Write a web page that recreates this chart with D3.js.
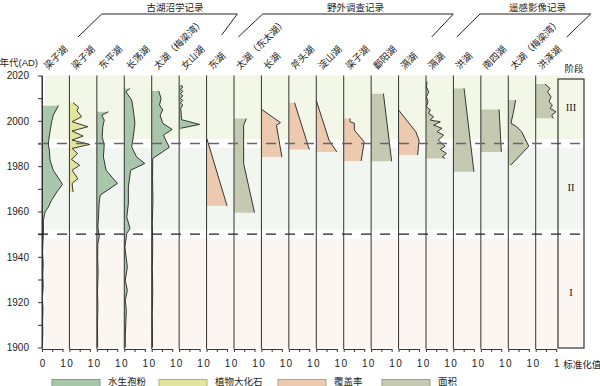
<!DOCTYPE html>
<html>
<head>
<meta charset="utf-8">
<script src="https://cdn.jsdelivr.net/npm/d3@7"></script>
<style>
  html, body { margin: 0; padding: 0; background: #fff; }
  svg { display: block; }
</style>
</head>
<body>
<svg id="chart" width="600" height="386"></svg>
<script>
// panels, left to right
const lakeNames = [
  "梁子湖", "梁子湖", "东平湖", "长荡湖", "太湖（梅梁湾）", "女山湖", "东湖",
  "太湖（东太湖）", "长湖", "斧头湖", "淀山湖", "梁子湖", "鄱阳湖", "滆湖", "滆湖",
  "洪湖", "南四湖", "太湖（梅梁湾）", "洪泽湖",
];
const lakeTypes = [
  "pollen", "macro", "pollen", "pollen", "pollen", "pollen", "cover",
  "area", "cover", "cover", "cover", "cover", "area", "cover", "area",
  "area", "area", "area", "area",
];

const groupNames = ["古湖沼学记录", "野外调查记录", "遥感影像记录"];

const typeKeys = ["pollen", "macro", "cover", "area"];
const typeNames = ["水生孢粉", "植物大化石", "覆盖率", "面积"];

const stageLabels = ["III", "II", "I"];
const stageTops = [2020, 1988, 1948];
const stageBottoms = [1992, 1952, 1900];
const stageBreaks = [1990, 1950];

const yearTicks = [1900, 1910, 1920, 1930, 1940, 1950, 1960, 1970, 1980, 1990, 2000, 2010, 2020];
const yearLabels = [1900, 1920, 1940, 1960, 1980, 2000, 2020];
const valueTicks = [0, 0.5, 1];

// [year, normalised value]
const liangziPollen = [
  [2006.7, 0.8], [2002.5, 0.55], [1999.6, 0.47], [1995.2, 0.39], [1991.5, 0.33],
  [1989.3, 0.31], [1987.1, 0.36], [1982.7, 0.39], [1978.2, 0.55], [1972, 1.0],
  [1968.6, 0.72], [1965, 0.47], [1962, 0.31], [1959.8, 0.15], [1956.1, 0.07],
  [1951.7, 0.07], [1947, 0.05], [1942, 0.03], [1937, 0.06], [1932, 0.04],
  [1927, 0.06], [1922, 0.02], [1917, 0.05], [1912, 0.03], [1907, 0.04], [1900, 0.02],
];
const liangziMacro = [
  [2008, 0.18], [2006, 0.45], [2004.5, 0.37], [2001.8, 0.59], [1999.6, 0.13],
  [1997.4, 0.9], [1995.5, 0.13], [1993.3, 0.67], [1991.5, 0.13], [1989.6, 1.0],
  [1987.8, 0.13], [1985.6, 0.4], [1983, 0.1], [1980.4, 0.5], [1978.2, 0.13],
  [1974.5, 0.41], [1972.4, 0.13], [1968.6, 0.18],
];
const dongpingPollen = [
  [2004, 0.57], [2002.5, 0.24], [2000.3, 0.36], [1997.4, 0.29], [1993, 0.26],
  [1989.3, 0.36], [1984.1, 0.32], [1978.2, 0.45], [1972.4, 1.0], [1967.2, 0.16],
  [1963.5, 0.11], [1957.6, 0.08], [1953.2, 0.05], [1949, 0.12], [1946, 0.05],
  [1940, 0.04], [1933, 0.06], [1925, 0.03], [1918, 0.05], [1910, 0.03], [1900, 0.04],
];
const changdangPollen = [
  [2014.3, 0.28], [2012.8, 0.08], [2009.2, 0.36], [2004.8, 0.44], [1998.9, 0.52],
  [1993, 0.44], [1988.5, 0.36], [1984.1, 0.6], [1981.2, 1.0], [1978.2, 0.31],
  [1970.9, 0.2], [1963.5, 0.2], [1957.6, 0.12], [1952.5, 0.28], [1950.3, 0.12],
  [1944.3, 0.03], [1935.5, 0.15], [1929.6, 0.05], [1925.2, 0.15], [1920.8, 0.05],
  [1916.4, 0.1], [1905.2, 0.05], [1900, 0.05],
];
const meiliangPollen = [
  [2013.2, 0.34], [2009.9, 0.46], [2007, 0.38], [2004.8, 0.54], [2002.5, 0.41],
  [1998.9, 0.54], [1996.2, 1.0], [1993.7, 0.57], [1988.3, 0.86], [1983.4, 0.05],
  [1975, 0.04], [1965, 0.06], [1955, 0.03], [1945, 0.05], [1935, 0.03],
  [1925, 0.05], [1915, 0.03], [1900, 0.04],
];
const nushanPollen = [
  [2015.8, 0.1], [2014.9, 0.18], [2014, 0.07], [2013, 0.18], [2012, 0.07],
  [2011, 0.18], [2010, 0.07], [2009, 0.18], [2008, 0.07], [2007, 0.17],
  [2005.5, 0.08], [2003, 0.1], [2000.5, 0.12], [1998.4, 1.0], [1996.7, 0.06],
];
const donghuCover = [[1992, 0.02], [1962.5, 1.0]];
const dongtaihuArea = [[2001, 0.6], [1998, 0.47], [1981.2, 0.47], [1959.5, 1.0]];
const changhuCover = [[2005, 0.02], [1999.2, 0.93], [1998.1, 0.73], [1984, 1.0]];
const futouCover = [[2008, 0.28], [1987.3, 1.0]];
const dianshanCover = [[2009, 0.0], [1991.5, 0.62], [1986.3, 1.0]];
const liangziCover = [
  [2001, 0.31], [1999.6, 0.31], [1998.9, 0.52], [1995.9, 0.52], [1990.7, 1.0], [1982.3, 0.85],
];
const poyangArea = [[2012, 0.6], [1982.2, 1.0]];
const gehuCover = [[2004.8, 0.0], [1995.2, 0.84], [1991.5, 1.0], [1984.9, 0.93]];
const gehuArea = [
  [2017.3, 0.05], [2015, 0.02], [2012.8, 0.13], [2010.6, 0.02], [2008.4, 0.1],
  [2006.2, 0.02], [2004.8, 0.21], [2003.3, 0.13], [2001.8, 0.37], [2000.3, 0.21],
  [1999.6, 0.7], [1998.1, 0.37], [1996.7, 0.78], [1995.2, 0.54], [1993.7, 0.86],
  [1991.5, 0.6], [1988.8, 0.93], [1987.4, 0.7], [1985.6, 1.0], [1984.1, 0.8], [1983.4, 0.93],
];
const honghuArea = [[2014.3, 0.52], [1977.5, 1.0]];
const nansiArea = [[2005, 0.89], [1986.3, 1.0]];
const meiliangArea = [
  [2009.2, 0.36], [2003.3, 0.24], [1998.9, 0.13], [1997.4, 0.41], [1995.2, 0.65],
  [1988.8, 1.0], [1980.4, 0.12],
];
const hongzeArea = [
  [2016.2, 0.45], [2014.3, 0.7], [2012.8, 0.58], [2010.6, 0.75], [2008.4, 0.65],
  [2007, 0.81], [2005.5, 0.7], [2004, 0.99], [2002.5, 0.78], [2001.1, 0.86],
];

const panelValues = [
  liangziPollen, liangziMacro, dongpingPollen, changdangPollen, meiliangPollen,
  nushanPollen, donghuCover, dongtaihuArea, changhuCover, futouCover, dianshanCover,
  liangziCover, poyangArea, gehuCover, gehuArea, honghuArea, nansiArea,
  meiliangArea, hongzeArea,
];

(() => {
  const d3 = window.d3;
  const CJK = '"Noto Sans CJK SC", "Liberation Sans", sans-serif';
  const LATIN = '"Liberation Sans", Arial, "Noto Sans CJK SC", sans-serif';
  const INK = "#222222";
  const TYPE_COLORS = {
    pollen: "#a7c6aa",
    macro: "#e1e59e",
    cover: "#ecc9af",
    area: "#c5c9b1",
  };
  const STAGE_FILLS = ["#f3f7e8", "#f1f7f0", "#fcf6f2"];

  const AXIS_Y = 349;
  const BAND_X0 = 45;
  const BOX = { x0: 558, x1: 584, y0: 79, y1: 348 };
  // bracket lines over the group titles: [leftBottomX, leftTopX, rightTopX, rightBottomX]
  const BRACKETS = [
    [78, 101.7, 237.3, 221.7],
    [238.3, 262.7, 453.3, 431.7],
    [456.7, 480, 590.7, 566.7],
  ];
  const GROUP_TITLE_X = [175, 355.5, 537.5];
  const LEGEND_X = [52, 159, 278, 382];

  const svg = d3.select("#chart");

  const y = d3.scaleLinear().domain([1900, 2020]).range([347.5, 75.5]);
  const panelX = d3
    .scaleBand()
    .domain(d3.range(lakeNames.length))
    .range([42, 556.2])
    .paddingInner(0.253)
    .paddingOuter(0);

  const panels = lakeNames.map((name, i) => {
    const left = panelX(i);
    return {
      name,
      type: lakeTypes[i],
      values: panelValues[i],
      left,
      x: d3.scaleLinear().domain([0, 1]).range([left, left + panelX.bandwidth()]),
    };
  });

  // stage background bands
  svg
    .append("g")
    .selectAll("rect")
    .data(stageLabels)
    .join("rect")
    .attr("x", BAND_X0)
    .attr("width", BOX.x1 - BAND_X0)
    .attr("y", (d, i) => y(stageTops[i]))
    .attr("height", (d, i) => y(stageBottoms[i]) - y(stageTops[i]))
    .attr("fill", (d, i) => STAGE_FILLS[i]);

  // profiles
  const profiles = svg
    .append("g")
    .selectAll("g")
    .data(panels)
    .join("g");

  profiles
    .append("path")
    .attr("d", (p) =>
      d3
        .area()
        .y((d) => y(d[0]))
        .x0(p.x(0))
        .x1((d) => p.x(d[1]))(p.values),
    )
    .attr("fill", (p) => TYPE_COLORS[p.type]);

  profiles
    .append("path")
    .attr("d", (p) =>
      d3
        .line()
        .y((d) => y(d[0]))
        .x((d) => p.x(d[1]))(p.values),
    )
    .attr("fill", "none")
    .attr("stroke", INK)
    .attr("stroke-width", 0.9)
    .attr("stroke-linejoin", "round");

  // panel base lines
  svg
    .append("g")
    .selectAll("line")
    .data(panels)
    .join("line")
    .attr("x1", (p) => p.left)
    .attr("x2", (p) => p.left)
    .attr("y1", y(2020))
    .attr("y2", AXIS_Y)
    .attr("stroke", "#333")
    .attr("stroke-width", 1);

  // year axis
  const yAxisG = svg
    .append("g")
    .attr("transform", `translate(${panelX(0)},0)`)
    .call(
      d3
        .axisLeft(y)
        .tickValues(yearTicks)
        .tickSize(4)
        .tickSizeOuter(0)
        .tickPadding(9)
        .tickFormat((d) => (yearLabels.includes(d) ? d : "")),
    );
  yAxisG.selectAll("path, line").attr("stroke", "#333");
  yAxisG
    .selectAll("text")
    .attr("fill", INK)
    .style("font-family", LATIN)
    .style("font-size", "10px");

  // value axes under each panel
  panels.forEach((p) => {
    const g = svg
      .append("g")
      .attr("transform", `translate(0,${AXIS_Y})`)
      .call(
        d3
          .axisBottom(p.x)
          .tickValues(valueTicks)
          .tickSize(3)
          .tickSizeOuter(0)
          .tickPadding(8)
          .tickFormat((d) => (d === 0.5 ? "" : d3.format("d")(d))),
      );
    g.selectAll("path, line").attr("stroke", "#333");
    g.selectAll("text")
      .attr("fill", INK)
      .style("font-family", LATIN)
      .style("font-size", "10px");
  });

  svg
    .append("text")
    .attr("x", panelX(lakeNames.length - 1) + panelX.bandwidth() + 7)
    .attr("y", AXIS_Y + 18.5)
    .attr("fill", INK)
    .style("font-family", CJK)
    .style("font-size", "9.5px")
    .text("标准化值");

  // stage boundaries
  svg
    .append("g")
    .selectAll("line")
    .data(stageBreaks)
    .join("line")
    .attr("x1", 38)
    .attr("x2", BOX.x1)
    .attr("y1", (d) => y(d))
    .attr("y2", (d) => y(d))
    .attr("stroke", (d, i) => (i === 0 ? "#666" : "#222"))
    .attr("stroke-width", 1.4)
    .attr("stroke-dasharray", "10,9");

  // stage box
  svg
    .append("rect")
    .attr("x", BOX.x0)
    .attr("y", BOX.y0)
    .attr("width", BOX.x1 - BOX.x0)
    .attr("height", BOX.y1 - BOX.y0)
    .attr("fill", "none")
    .attr("stroke", "#333")
    .attr("stroke-width", 1.2);

  svg
    .append("g")
    .selectAll("text")
    .data(stageLabels)
    .join("text")
    .attr("x", (BOX.x0 + BOX.x1) / 2)
    .attr("y", (d, i) => (Math.max(y(stageTops[i]), BOX.y0) + y(stageBottoms[i])) / 2)
    .attr("text-anchor", "middle")
    .attr("dominant-baseline", "middle")
    .attr("fill", INK)
    .style("font-family", '"Liberation Serif", "DejaVu Serif", serif')
    .style("font-size", "10.5px")
    .text((d) => d);

  svg
    .append("text")
    .attr("x", (BOX.x0 + BOX.x1) / 2 + 3)
    .attr("y", 72)
    .attr("text-anchor", "middle")
    .attr("fill", INK)
    .style("font-family", CJK)
    .style("font-size", "9.5px")
    .text("阶段");

  svg
    .append("text")
    .attr("x", 38)
    .attr("y", 65.5)
    .attr("text-anchor", "end")
    .attr("fill", INK)
    .style("font-family", LATIN)
    .style("font-size", "9.5px")
    .text("年代(AD)");

  // rotated lake names
  svg
    .append("g")
    .selectAll("text")
    .data(panels)
    .join("text")
    .attr("transform", (p) => `translate(${p.left + 6},70) rotate(-45)`)
    .attr("fill", INK)
    .style("font-family", CJK)
    .style("font-size", "9.5px")
    .text((p) => p.name);

  // group headers
  const groups = svg
    .append("g")
    .selectAll("g")
    .data(groupNames)
    .join("g");

  groups
    .append("path")
    .attr("d", (d, i) => {
      const [lb, lt, rt, rb] = BRACKETS[i];
      return `M${lb},37 L${lt},14 H${rt} L${rb},${i === 0 ? 35 : 37}`;
    })
    .attr("fill", "none")
    .attr("stroke", INK)
    .attr("stroke-width", 1);

  groups
    .append("text")
    .attr("x", (d, i) => GROUP_TITLE_X[i])
    .attr("y", 10.5)
    .attr("text-anchor", "middle")
    .attr("fill", INK)
    .style("font-family", CJK)
    .style("font-size", "9.5px")
    .text((d) => d);

  // legend
  const legend = svg
    .append("g")
    .selectAll("g")
    .data(typeKeys)
    .join("g")
    .attr("transform", (d, i) => `translate(${LEGEND_X[i]},0)`);

  legend
    .append("rect")
    .attr("y", 379.5)
    .attr("width", 48)
    .attr("height", 9)
    .attr("fill", (d) => TYPE_COLORS[d])
    .attr("stroke", (d) => d3.color(TYPE_COLORS[d]).darker(0.7))
    .attr("stroke-width", 1);

  legend
    .append("text")
    .attr("x", 56)
    .attr("y", 384.5)
    .attr("fill", INK)
    .style("font-family", CJK)
    .style("font-size", "9.5px")
    .text((d, i) => typeNames[i]);
})();
</script>
</body>
</html>
